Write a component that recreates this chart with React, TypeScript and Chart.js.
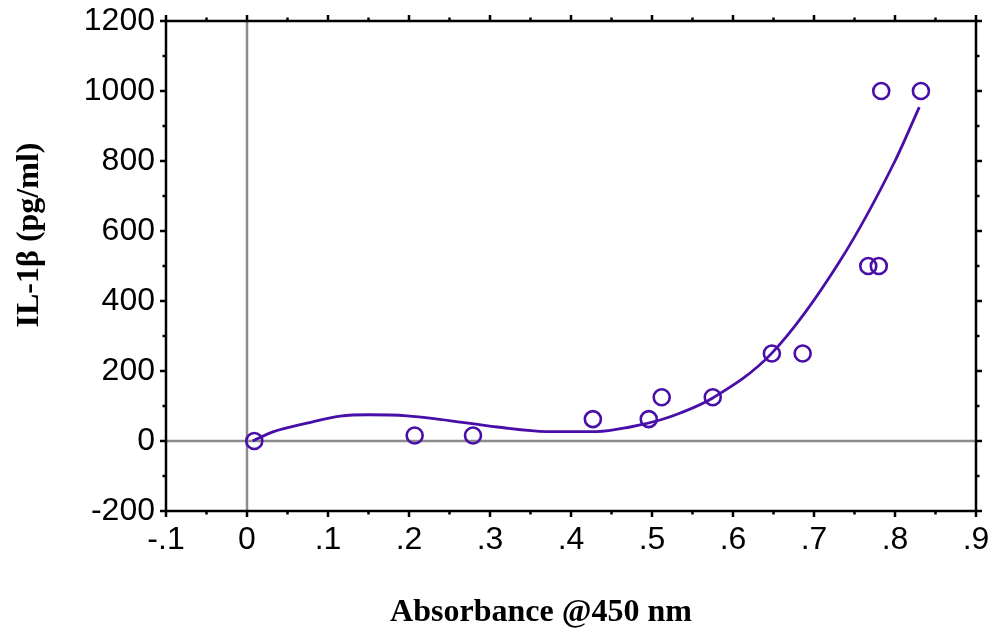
import React, { useEffect, useRef } from 'react';
import { Chart, registerables } from 'chart.js';

Chart.register(...registerables);

// Measured standards: absorbance at 450 nm vs IL-1β concentration
const absorbance = [0.009, 0.207, 0.279, 0.427, 0.496, 0.512, 0.575, 0.648, 0.686, 0.767, 0.780, 0.783, 0.832];
const concentration = [0, 15.6, 15.6, 62.5, 62.5, 125, 125, 250, 250, 500, 500, 1000, 1000];

// Fitted standard curve
const fitX = [0.007, 0.032, 0.074, 0.115, 0.15, 0.198, 0.238, 0.309, 0.37, 0.432, 0.473, 0.51, 0.535, 0.575, 0.648, 0.732, 0.8, 0.83];
const fitY = [0, 26, 51, 71, 75, 72, 62, 40, 27, 27, 40, 60, 80, 123, 251, 514, 800, 954];

// Axis ticks
const xTicks = [-0.1, 0, 0.1, 0.2, 0.3, 0.4, 0.5, 0.6, 0.7, 0.8, 0.9];
const xTickLabels = ['-.1', '0', '.1', '.2', '.3', '.4', '.5', '.6', '.7', '.8', '.9'];
const yTicks = [-200, 0, 200, 400, 600, 800, 1000, 1200];
const yTickLabels = ['-200', '0', '200', '400', '600', '800', '1000', '1200'];

// Axis titles
const xTitle = 'Absorbance @450 nm';
const yTitle = 'IL-1β (pg/ml)';

const PURPLE = '#4a0ea8';
const TITLE_FONT = "bold 32px 'Liberation Serif', 'Times New Roman', serif";

const framePlugin = {
  id: 'framePlugin',
  beforeDatasetsDraw(chart: any) {
    const { ctx, chartArea: a, scales } = chart;
    const x = scales.x;
    const y = scales.y;
    ctx.save();
    ctx.strokeStyle = '#8c8c8c';
    ctx.lineWidth = 2.5;
    const x0 = x.getPixelForValue(0);
    const y0 = y.getPixelForValue(0);
    ctx.beginPath();
    ctx.moveTo(x0, a.top);
    ctx.lineTo(x0, a.bottom);
    ctx.moveTo(a.left, y0);
    ctx.lineTo(a.right, y0);
    ctx.stroke();
    ctx.restore();
  },
  afterDatasetsDraw(chart: any) {
    const { ctx, chartArea: a, scales } = chart;
    const x = scales.x;
    const y = scales.y;
    ctx.save();
    ctx.strokeStyle = '#000';
    ctx.lineWidth = 2.5;
    ctx.strokeRect(a.left, a.top, a.right - a.left, a.bottom - a.top);
    ctx.beginPath();
    const major = 6;
    const minor = 3.5;
    for (let i = 0; i < xTicks.length; i++) {
      const px = x.getPixelForValue(xTicks[i]);
      ctx.moveTo(px, a.bottom);
      ctx.lineTo(px, a.bottom + major);
      ctx.moveTo(px, a.top);
      ctx.lineTo(px, a.top - major);
      if (i < xTicks.length - 1) {
        const pm = x.getPixelForValue((xTicks[i] + xTicks[i + 1]) / 2);
        ctx.moveTo(pm, a.bottom);
        ctx.lineTo(pm, a.bottom + minor);
        ctx.moveTo(pm, a.top);
        ctx.lineTo(pm, a.top - minor);
      }
    }
    for (let i = 0; i < yTicks.length; i++) {
      const py = y.getPixelForValue(yTicks[i]);
      ctx.moveTo(a.left, py);
      ctx.lineTo(a.left - major, py);
      ctx.moveTo(a.right, py);
      ctx.lineTo(a.right + major, py);
      if (i < yTicks.length - 1) {
        const pm = y.getPixelForValue((yTicks[i] + yTicks[i + 1]) / 2);
        ctx.moveTo(a.left, pm);
        ctx.lineTo(a.left - minor, pm);
        ctx.moveTo(a.right, pm);
        ctx.lineTo(a.right + minor, pm);
      }
    }
    ctx.stroke();

    // axis titles
    ctx.fillStyle = '#000';
    ctx.font = TITLE_FONT;
    ctx.textAlign = 'center';
    ctx.textBaseline = 'middle';
    ctx.fillText(xTitle, 541, 613);
    ctx.translate(30, 235);
    ctx.rotate(-Math.PI / 2);
    ctx.fillText(yTitle, 0, 0);
    ctx.restore();
  },
};

export default function App() {
  const canvasRef = useRef<HTMLCanvasElement | null>(null);

  useEffect(() => {
    if (!canvasRef.current) return;
    const tickFont = { family: "'Liberation Sans', Arial, sans-serif", size: 32 };
    const chart = new Chart(canvasRef.current, {
      type: 'scatter',
      data: {
        datasets: [
          {
            label: 'Fit',
            data: fitX.map((v, i) => ({ x: v, y: fitY[i] })),
            showLine: true,
            borderColor: PURPLE,
            borderWidth: 2.8,
            pointRadius: 0,
            cubicInterpolationMode: 'monotone',
            fill: false,
          },
          {
            label: 'Standards',
            data: absorbance.map((v, i) => ({ x: v, y: concentration[i] })),
            showLine: false,
            pointStyle: 'circle',
            pointRadius: 8,
            pointBorderWidth: 2.6,
            borderColor: PURPLE,
            backgroundColor: 'rgba(0,0,0,0)',
          },
        ],
      },
      options: {
        responsive: false,
        animation: false,
        layout: { padding: { left: 0, right: 18, top: 21, bottom: 0 } },
        plugins: { legend: { display: false }, tooltip: { enabled: false } },
        scales: {
          x: {
            type: 'linear',
            position: 'bottom',
            min: -0.1,
            max: 0.9,
            afterBuildTicks: (s: any) => {
              s.ticks = xTicks.map((v) => ({ value: v }));
            },
            afterFit: (s: any) => {
              s.height = 125;
              s.paddingLeft = 0;
              s.paddingRight = 0;
            },
            ticks: {
              autoSkip: false,
              maxRotation: 0,
              color: '#000',
              font: tickFont,
              padding: 10,
              callback: (v: any) => {
                const i = xTicks.findIndex((t) => Math.abs(t - Number(v)) < 1e-6);
                return i >= 0 ? xTickLabels[i] : '';
              },
            },
            grid: { display: false, drawTicks: false, tickLength: 0 },
            border: { display: false },
            title: { display: false },
          },
          y: {
            type: 'linear',
            position: 'left',
            min: -200,
            max: 1200,
            afterBuildTicks: (s: any) => {
              s.ticks = yTicks.map((v) => ({ value: v }));
            },
            afterFit: (s: any) => {
              s.width = 166;
              s.paddingTop = 0;
              s.paddingBottom = 0;
            },
            ticks: {
              autoSkip: false,
              color: '#000',
              font: tickFont,
              padding: 11,
              callback: (v: any) => {
                const i = yTicks.findIndex((t) => Math.abs(t - Number(v)) < 1e-6);
                return i >= 0 ? yTickLabels[i] : '';
              },
            },
            grid: { display: false, drawTicks: false, tickLength: 0 },
            border: { display: false },
            title: { display: false },
          },
        },
      },
      plugins: [framePlugin],
    });
    return () => chart.destroy();
  }, []);

  return (
    <div style={{ position: 'fixed', left: 0, top: 0, width: 994, height: 636, background: '#fff' }}>
      <canvas ref={canvasRef} width={994} height={636} style={{ width: 994, height: 636, display: 'block' }} />
    </div>
  );
}
